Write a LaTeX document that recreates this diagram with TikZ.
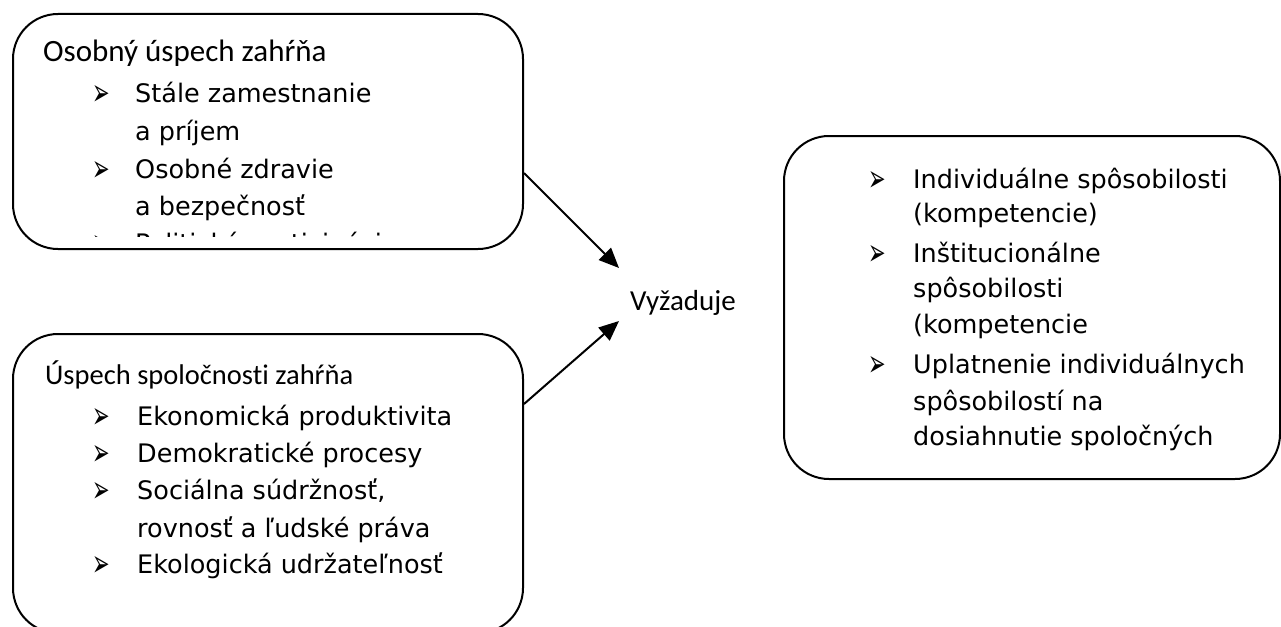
\documentclass[tikz,border=0pt]{standalone}
\usepackage{fontspec}
\setmainfont{Carlito}[Ligatures=NoCommon]
\newfontfamily\verdfont{DejaVu Sans}
\usetikzlibrary{arrows.meta}

\newcommand{\arrbul}{\scalebox{0.7}[1.25]{➢}}

\tikzset{
  panel/.style={draw, line width=2pt, rounded corners=45pt, anchor=north west, inner sep=0pt},
  headtext/.style={anchor=base west, inner sep=0pt, font=\fontsize{28.5}{34}\selectfont},
  itemtext/.style={anchor=base west, inner sep=0pt, font=\verdfont\fontsize{25.5}{30}\selectfont},
  bulletmark/.style={anchor=base west, inner sep=0pt, yshift=-3pt, font=\verdfont\fontsize{30}{34}\selectfont},
  conn/.style={line width=2pt, -{Triangle[length=20pt,width=17pt]}}
}

\begin{document}
\begin{tikzpicture}[x=1pt,y=-1pt]
  \useasboundingbox (0,0) rectangle (1281,626);
  \clip (0,0) rectangle (1281,626);

  % the three boxes
  \node[panel, minimum width=510pt, minimum height=235pt] (osobny) at (12,13) {};
  \node[panel, minimum width=510pt, minimum height=299pt] (spolocnost) at (12,333) {};
  \node[panel, minimum width=496pt, minimum height=343pt] (schopnosti) at (783,135) {};

  % first box, its last item is cut off
  \begin{scope}
    \clip (12,13) rectangle (522,236);
    \node[headtext, font=\fontsize{31}{36}\selectfont] (osobnyhead) at (43,62) {Osobný úspech zahŕňa};
    \foreach \yy in {102,178,252}
      \node[bulletmark] (ob\yy) at (92,\yy) {\arrbul};
    \foreach \yy/\txt in {102/Stále zamestnanie, 140/a príjem, 178/Osobné zdravie,
                          215/a bezpečnosť, 252/Politická participácia}
      \node[itemtext] (ot\yy) at (135,\yy) {\txt};
  \end{scope}

  % second box
  \node[headtext] (spolhead) at (45,384) {Úspech spoločnosti zahŕňa};
  \foreach \yy in {425,462,499,573}
    \node[bulletmark] (sb\yy) at (92,\yy) {\arrbul};
  \foreach \yy/\txt in {425/Ekonomická produktivita, 462/Demokratické procesy,
                        499/{Sociálna súdržnosť,}, 537/rovnosť a ľudské práva,
                        573/Ekologická udržateľnosť}
    \node[itemtext] (st\yy) at (137,\yy) {\txt};

  % right box
  \foreach \yy in {188,262,373}
    \node[bulletmark] (kb\yy) at (868,\yy) {\arrbul};
  \foreach \yy/\txt in {188/Individuálne spôsobilosti, 222/(kompetencie),
                        262/Inštitucionálne, 297/spôsobilosti, 333/(kompetencie,
                        373/Uplatnenie individuálnych, 410/spôsobilostí na,
                        445/dosiahnutie spoločných}
    \node[itemtext] (kt\yy) at (913,\yy) {\txt};

  % middle label and arrows
  \node[headtext, font=\fontsize{29}{34}\selectfont] (vyzaduje) at (630,310) {Vyžaduje};
  \draw[conn] ([yshift=-41.5pt]osobny.east) -- ([xshift=-11pt,yshift=42pt]vyzaduje.base west);
  \draw[conn] ([yshift=79.5pt]spolocnost.east) -- ([xshift=-11pt,yshift=-11pt]vyzaduje.base west);
\end{tikzpicture}
\end{document}
